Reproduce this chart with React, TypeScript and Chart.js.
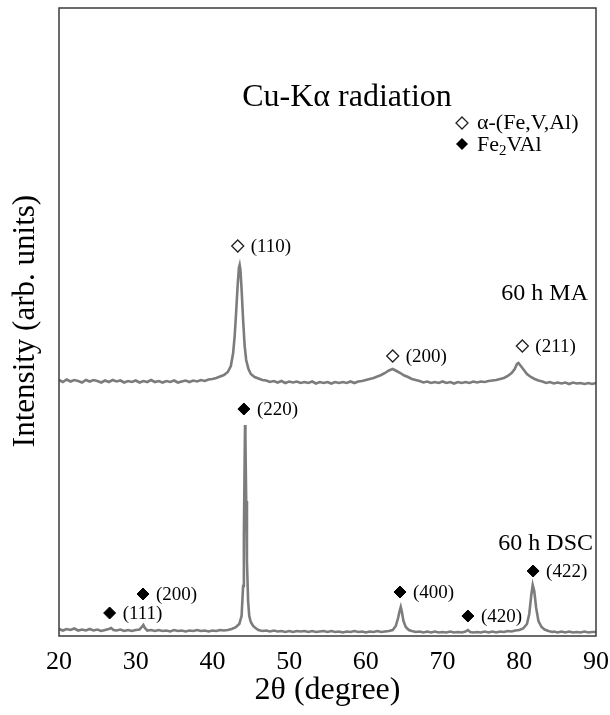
import React, { useEffect, useRef } from "react";
import { Chart, registerables } from "chart.js";

Chart.register(...registerables);

// 2θ (degree) / intensity (arb. units) — 60 h MA pattern (offset upward)
const maPattern: [number, number][] = [
  [20, 256], [20.5, 254], [21, 256.5], [21.5, 254.5], [22, 256], [22.5, 255], [23, 253.5], [23.5, 256],
  [24, 254.5], [24.5, 256], [25, 255], [25.5, 253.5], [26, 255.5], [26.5, 254], [27, 256], [27.5, 254.5],
  [28, 255.5], [28.5, 253.5], [29, 255], [29.5, 254], [30, 255.5], [30.5, 253.5], [31, 255], [31.5, 254],
  [32, 256], [32.5, 254], [33, 255], [33.5, 253.5], [34, 255], [34.5, 254], [35, 255.5], [35.5, 253.5],
  [36, 254.5], [36.5, 255.5], [37, 254], [37.5, 255.5], [38, 254.5], [38.5, 256], [39, 255], [39.5, 256.5],
  [40, 257], [40.5, 258], [41, 259.5], [41.5, 261], [42, 264], [42.4, 270], [42.7, 283], [42.9, 300],
  [43.1, 325], [43.3, 352], [43.45, 368], [43.55, 371], [43.65, 366], [43.8, 347], [44.0, 316], [44.2, 290],
  [44.4, 276], [44.7, 267], [45, 262], [45.5, 259], [46, 257.5], [46.5, 256], [47, 255.5], [47.5, 254],
  [48, 255], [48.5, 253.5], [49, 255], [49.5, 253], [50, 254.5], [50.5, 253.5], [51, 254.5], [51.5, 253],
  [52, 254], [52.5, 253], [53, 254.5], [53.5, 252.5], [54, 254], [54.5, 253], [55, 254], [55.5, 252.5],
  [56, 254], [56.5, 253], [57, 254], [57.5, 253], [58, 254.5], [58.5, 253], [59, 254.5], [59.5, 255],
  [60, 256], [60.5, 257], [61, 258], [61.5, 259.5], [62, 261], [62.5, 263], [63, 265.5], [63.5, 267],
  [64, 265], [64.5, 263], [65, 260.5], [65.5, 259], [66, 257], [66.5, 256], [67, 255], [67.5, 253.5],
  [68, 254.5], [68.5, 253], [69, 254], [69.5, 253], [70, 254.5], [70.5, 253], [71, 254], [71.5, 252.5],
  [72, 254], [72.5, 253], [73, 254], [73.5, 253], [74, 254.5], [74.5, 253.5], [75, 254.5], [75.5, 254],
  [76, 255], [76.5, 255.5], [77, 256], [77.5, 257], [78, 258], [78.5, 260], [79, 263], [79.4, 267],
  [79.7, 272], [79.9, 273], [80.1, 271], [80.4, 268], [80.7, 265], [81, 262], [81.5, 259], [82, 257],
  [82.5, 255.5], [83, 254.5], [83.5, 253], [84, 254], [84.5, 252.5], [85, 253.5], [85.5, 252.5], [86, 253.5],
  [86.5, 252], [87, 253.5], [87.5, 252.5], [88, 253], [88.5, 252], [89, 253], [89.5, 252], [90, 253],
];

// 60 h DSC pattern
const dscPattern: [number, number][] = [
  [20, 7], [20.5, 5.5], [21, 7], [21.5, 6], [22, 7.5], [22.5, 5.5], [23, 6.5], [23.5, 5.5], [24, 7],
  [24.5, 5.5], [25, 6.5], [25.5, 5], [26, 6], [26.5, 7], [26.8, 8], [27.1, 6], [27.5, 5.5], [28, 6.5],
  [28.5, 5], [29, 6], [29.5, 5], [30, 6], [30.5, 6.5], [30.8, 9], [31.0, 11], [31.2, 8], [31.5, 5.5],
  [32, 6], [32.5, 5], [33, 6], [33.5, 5], [34, 5.5], [34.5, 4.5], [35, 6], [35.5, 5], [36, 5.5],
  [36.5, 4.5], [37, 5.5], [37.5, 5], [38, 6], [38.5, 5], [39, 5.5], [39.5, 4.5], [40, 5.5], [40.5, 5],
  [41, 6], [41.5, 5.5], [42, 6], [42.5, 7], [43, 8.5], [43.5, 12], [43.8, 20], [44.0, 50], [44.1, 100],
  [44.2, 175], [44.25, 211], [44.3, 198], [44.4, 135], [44.5, 75], [44.65, 35], [44.8, 20], [45.0, 14],
  [45.3, 10], [45.7, 7.5], [46, 6], [46.5, 5], [47, 5.5], [47.5, 4.5], [48, 5.5], [48.5, 4.5], [49, 5],
  [49.5, 4], [50, 5], [50.5, 4], [51, 5], [51.5, 4.5], [52, 5], [52.5, 4], [53, 5], [53.5, 4], [54, 4.5],
  [54.5, 5], [55, 4], [55.5, 5], [56, 4], [56.5, 4.5], [57, 3.5], [57.5, 4.5], [58, 4], [58.5, 5], [59, 4],
  [59.5, 4.5], [60, 3.5], [60.5, 4.5], [61, 4], [61.5, 5], [62, 4], [62.5, 4.5], [63, 5], [63.5, 6],
  [63.9, 10], [64.2, 18], [64.4, 25], [64.55, 29], [64.7, 24], [64.9, 15], [65.2, 9], [65.6, 6], [66, 5],
  [66.5, 4], [67, 4.5], [67.5, 3.5], [68, 4.5], [68.5, 3.5], [69, 4.5], [69.5, 3.5], [70, 4], [70.5, 3.5],
  [71, 4.5], [71.5, 3.5], [72, 4], [72.5, 3.5], [73, 4.5], [73.3, 6], [73.6, 4], [74, 3.5], [74.5, 4],
  [75, 3.5], [75.5, 4.5], [76, 3.5], [76.5, 4.5], [77, 3.5], [77.5, 4.5], [78, 4], [78.5, 5], [79, 4.5],
  [79.5, 5.5], [80, 6], [80.5, 7.5], [81, 12], [81.3, 22], [81.55, 40], [81.75, 51], [81.95, 45],
  [82.2, 28], [82.5, 15], [82.9, 9], [83.3, 6.5], [83.8, 5], [84.3, 4], [84.5, 4.5], [85, 3.5], [85.5, 4.5],
  [86, 3.5], [86.5, 4.5], [87, 3.5], [87.5, 4], [88, 3.5], [88.5, 4.5], [89, 3.5], [89.5, 4], [90, 4],
];

// α-(Fe,V,Al) reflections (hollow diamonds)
const alphaTheta = [43.3, 63.5, 80.4];
const alphaLevel = [390, 280, 290];
const alphaLabels = ["(110)", "(200)", "(211)"];

// Fe2VAl reflections (filled diamonds)
const heuslerTheta = [26.6, 30.95, 44.1, 64.45, 73.3, 81.8];
const heuslerLevel = [23, 42, 227, 44, 20, 65];
const heuslerLabels = ["(111)", "(200)", "(220)", "(400)", "(420)", "(422)"];

const xTicks = [20, 30, 40, 50, 60, 70, 80, 90];

const SERIF = "'Liberation Serif', 'Times New Roman', serif";

function diamond(ctx: CanvasRenderingContext2D, x: number, y: number, r: number, filled: boolean) {
  ctx.save();
  ctx.beginPath();
  ctx.moveTo(x, y - r);
  ctx.lineTo(x + r, y);
  ctx.lineTo(x, y + r);
  ctx.lineTo(x - r, y);
  ctx.closePath();
  if (filled) {
    ctx.fillStyle = "#000";
    ctx.fill();
  } else {
    ctx.fillStyle = "#fff";
    ctx.fill();
    ctx.lineWidth = 1.3;
    ctx.strokeStyle = "#222";
    ctx.stroke();
  }
  ctx.restore();
}

const decorations = {
  id: "decorations",
  afterDraw(chart: any) {
    const { ctx, chartArea, scales } = chart;
    const xs = scales.x;
    const ys = scales.y;
    ctx.save();
    // frame
    ctx.strokeStyle = "#3a3a3a";
    ctx.lineWidth = 1.5;
    ctx.strokeRect(chartArea.left, chartArea.top, chartArea.right - chartArea.left, chartArea.bottom - chartArea.top);

    ctx.fillStyle = "#000";
    ctx.textBaseline = "middle";

    // peak labels
    ctx.font = `19px ${SERIF}`;
    ctx.textAlign = "left";
    alphaTheta.forEach((t, i) => {
      ctx.fillText(alphaLabels[i], xs.getPixelForValue(t) + 13, ys.getPixelForValue(alphaLevel[i]) + 1);
    });
    heuslerTheta.forEach((t, i) => {
      ctx.fillText(heuslerLabels[i], xs.getPixelForValue(t) + 13, ys.getPixelForValue(heuslerLevel[i]) + 1);
    });

    // title text
    ctx.font = `32px ${SERIF}`;
    ctx.textAlign = "center";
    ctx.fillText("Cu-K\u03b1 radiation", 347, 98);

    // legend
    diamond(ctx, 462, 123, 6, false);
    diamond(ctx, 462, 144, 6, true);
    ctx.font = `22px ${SERIF}`;
    ctx.textAlign = "left";
    ctx.fillText("\u03b1-(Fe,V,Al)", 477, 123);
    let lx = 477;
    ctx.fillText("Fe", lx, 145);
    lx += ctx.measureText("Fe").width;
    ctx.font = `15px ${SERIF}`;
    ctx.fillText("2", lx, 151);
    lx += ctx.measureText("2").width;
    ctx.font = `22px ${SERIF}`;
    ctx.fillText("VAl", lx, 145);

    // sample labels
    ctx.font = `24px ${SERIF}`;
    ctx.textAlign = "right";
    ctx.fillText("60 h MA", 588, 294);
    ctx.fillText("60 h DSC", 593, 544);

    // axis titles
    ctx.font = `32px ${SERIF}`;
    ctx.textAlign = "center";
    ctx.fillText("2\u03b8 (degree)", (chartArea.left + chartArea.right) / 2, 691);
    ctx.save();
    ctx.translate(26, 321);
    ctx.rotate(-Math.PI / 2);
    ctx.font = `31px ${SERIF}`;
    ctx.fillText("Intensity (arb. units)", 0, 0);
    ctx.restore();

    ctx.restore();
  },
};

export default function App() {
  const ref = useRef<HTMLCanvasElement | null>(null);
  useEffect(() => {
    if (!ref.current) return;
    const chart = new Chart(ref.current, {
      type: "line",
      data: {
        datasets: [
          {
            type: "scatter",
            label: "alpha markers",
            data: alphaTheta.map((t, i) => ({ x: t, y: alphaLevel[i] })),
            pointStyle: "rectRot",
            pointRadius: 6,
            backgroundColor: "#fff",
            borderColor: "#222",
            borderWidth: 1.3,
            order: 0,
          } as any,
          {
            type: "scatter",
            label: "Fe2VAl markers",
            data: heuslerTheta.map((t, i) => ({ x: t, y: heuslerLevel[i] })),
            pointStyle: "rectRot",
            pointRadius: 6,
            backgroundColor: "#000",
            borderColor: "#000",
            borderWidth: 1,
            order: 0,
          } as any,
          {
            label: "60 h MA",
            data: maPattern.map(([x, y]) => ({ x, y })),
            borderColor: "#7c7c7c",
            borderWidth: 2.6,
            pointRadius: 0,
            tension: 0,
            fill: false,
            order: 1,
          },
          {
            label: "60 h DSC",
            data: dscPattern.map(([x, y]) => ({ x, y })),
            borderColor: "#7c7c7c",
            borderWidth: 2.6,
            pointRadius: 0,
            tension: 0,
            fill: false,
            order: 1,
          },
        ],
      },
      options: {
        animation: false,
        responsive: false,
        layout: { padding: { left: 59, right: 14, top: 8, bottom: 0 } },
        plugins: { legend: { display: false }, tooltip: { enabled: false } },
        scales: {
          x: {
            type: "linear",
            min: 20,
            max: 90,
            afterBuildTicks: (s: any) => {
              s.ticks = xTicks.map((v) => ({ value: v }));
            },
            grid: { display: false, drawTicks: false },
            border: { display: false },
            ticks: {
              font: { family: SERIF, size: 26 },
              color: "#000",
              padding: 11,
              maxRotation: 0,
              autoSkip: false,
            },
            afterFit: (s: any) => {
              s.height = 79;
              s.paddingLeft = 0;
              s.paddingRight = 0;
            },
          },
          y: { display: false, min: 0, max: 628 },
        },
      },
      plugins: [decorations],
    });
    return () => chart.destroy();
  }, []);
  return (
    <div style={{ position: "absolute", left: 0, top: 0, width: 610, height: 715, background: "#fff" }}>
      <canvas ref={ref} width={610} height={715} style={{ width: 610, height: 715 }} />
    </div>
  );
}
